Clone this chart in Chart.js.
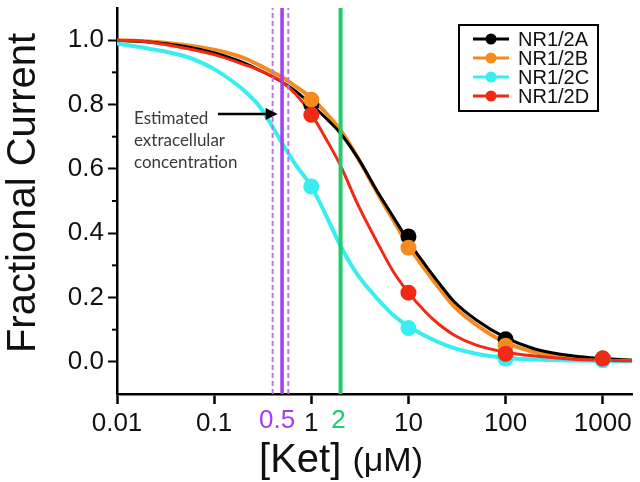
<!DOCTYPE html>
<html>
<head>
<meta charset="utf-8">
<script src="https://cdn.jsdelivr.net/npm/chart.js@4.4.1/dist/chart.umd.min.js"></script>
<style>
  html, body { margin: 0; padding: 0; background: #fff; }
  #wrap { width: 640px; height: 482px; }
</style>
</head>
<body>
<div id="wrap"><canvas id="ketChart" width="640" height="482"></canvas></div>
<script>
// fitted curves at these concentrations (uM)
const fitX = [0.01, 0.02, 0.05, 0.1, 0.2, 0.3, 0.5, 0.7, 1, 1.5, 2, 3, 5, 7, 10, 15, 20, 30, 50, 100, 200, 500, 1000, 2000];
const fitA = [1.0, 0.995, 0.98, 0.96, 0.93, 0.905, 0.87, 0.84, 0.80, 0.75, 0.71, 0.635, 0.52, 0.45, 0.375, 0.30, 0.25, 0.185, 0.13, 0.075, 0.04, 0.018, 0.01, 0.005];
const fitB = [1.0, 0.997, 0.985, 0.97, 0.945, 0.92, 0.885, 0.855, 0.82, 0.765, 0.72, 0.635, 0.515, 0.44, 0.36, 0.285, 0.235, 0.17, 0.115, 0.06, 0.03, 0.013, 0.007, 0.004];
const fitC = [0.99, 0.975, 0.95, 0.91, 0.845, 0.79, 0.68, 0.61, 0.545, 0.44, 0.36, 0.27, 0.19, 0.145, 0.11, 0.08, 0.062, 0.042, 0.025, 0.012, 0.007, 0.004, 0.003, 0.002];
const fitD = [1.0, 0.995, 0.975, 0.955, 0.925, 0.905, 0.87, 0.83, 0.77, 0.68, 0.61, 0.49, 0.36, 0.28, 0.215, 0.155, 0.12, 0.082, 0.052, 0.03, 0.018, 0.008, 0.005, 0.003];

// measured points
const doseX = [1, 10, 100, 1000];
const measA = [0.80, 0.39, 0.07, 0.01];
const measB = [0.815, 0.355, 0.05, 0.01];
const measC = [0.545, 0.105, 0.01, 0.005];
const measD = [0.768, 0.215, 0.025, 0.01];

const seriesNames = ['NR1/2A', 'NR1/2B', 'NR1/2C', 'NR1/2D'];
const seriesColors = ['#000000', '#f58a1f', '#38eef0', '#f02a14'];

// reference concentrations: 0.5 (range 0.4-0.58) and 2 uM
const vLineX = [0.4, 0.5, 0.58, 2];

const xTicks = [0.01, 0.1, 1, 10, 100, 1000];
const xTickLabels = ['0.01', '0.1', '1', '10', '100', '1000'];
const extraTickX = [0.5, 2];
const extraTickLabels = ['0.5', '2'];
const yTicks = [0, 0.2, 0.4, 0.6, 0.8, 1.0];
const yTickLabels = ['0.0', '0.2', '0.4', '0.6', '0.8', '1.0'];
const yMinorTicks = [0.1, 0.3, 0.5, 0.7, 0.9];

const FONT = '"Liberation Sans", Arial, sans-serif';
const PURPLE = '#a43cf2';
const PURPLE_LIGHT = '#b975f5';
const GREEN = '#22cc6a';

function pts(xs, ys) {
    return xs.map((x, i) => ({ x: x, y: ys[i] }));
}

function vline(x, color, width, dash, order) {
    return {
        data: [{ x: x, y: -0.1 }, { x: x, y: 1.1 }],
        borderColor: color,
        borderWidth: width,
        borderDash: dash,
        pointRadius: 0,
        order: order
    };
}

function curve(ys, color, width, order) {
    return {
        data: pts(fitX, ys),
        borderColor: color,
        borderWidth: width,
        pointRadius: 0,
        cubicInterpolationMode: 'monotone',
        order: order
    };
}

function dots(ys, color, order) {
    return {
        data: pts(doseX, ys),
        showLine: false,
        pointRadius: 8,
        pointBackgroundColor: color,
        pointBorderColor: color,
        pointBorderWidth: 0,
        order: order
    };
}

const overlay = {
    id: 'overlay',
    afterDraw(chart) {
        const { ctx, chartArea: a, scales: { x, y } } = chart;
        ctx.save();

        // minor ticks on y
        ctx.strokeStyle = '#000';
        ctx.lineWidth = 2;
        yMinorTicks.forEach(v => {
            const py = y.getPixelForValue(v);
            ctx.beginPath();
            ctx.moveTo(a.left - 5, py);
            ctx.lineTo(a.left, py);
            ctx.stroke();
        });

        // coloured concentration labels under the axis
        ctx.font = '26px ' + FONT;
        ctx.textAlign = 'center';
        ctx.textBaseline = 'top';
        const shift = [-5, -2];
        const cols = [PURPLE, GREEN];
        extraTickX.forEach((v, i) => {
            ctx.fillStyle = cols[i];
            ctx.fillText(extraTickLabels[i], x.getPixelForValue(v) + shift[i], a.bottom + 14);
        });

        // annotation + arrow
        ctx.font = '17px Lato, ' + FONT;
        ctx.fillStyle = '#3a3a3a';
        ctx.textAlign = 'left';
        ctx.textBaseline = 'middle';
        ctx.fillText('Estimated', 134, 119);
        ctx.fillText('extracellular', 134, 141);
        ctx.fillText('concentration', 134, 163);

        const tipX = x.getPixelForValue(0.4) + 5;
        ctx.strokeStyle = '#000';
        ctx.lineWidth = 2.5;
        ctx.beginPath();
        ctx.moveTo(218, 114);
        ctx.lineTo(tipX - 8, 114);
        ctx.stroke();
        ctx.fillStyle = '#000';
        ctx.beginPath();
        ctx.moveTo(tipX, 114);
        ctx.lineTo(tipX - 12, 108);
        ctx.lineTo(tipX - 12, 120);
        ctx.closePath();
        ctx.fill();

        // legend box
        ctx.lineWidth = 2;
        ctx.strokeStyle = '#000';
        ctx.strokeRect(459, 25, 139, 86);
        ctx.font = '20px ' + FONT;
        ctx.textBaseline = 'middle';
        seriesNames.forEach((name, i) => {
            const ly = 39 + i * 19;
            ctx.strokeStyle = seriesColors[i];
            ctx.fillStyle = seriesColors[i];
            ctx.lineWidth = 3;
            ctx.beginPath();
            ctx.moveTo(473, ly);
            ctx.lineTo(509, ly);
            ctx.stroke();
            ctx.beginPath();
            ctx.arc(491, ly, 5.5, 0, Math.PI * 2);
            ctx.fill();
            ctx.fillStyle = '#111';
            ctx.fillText(name, 518, ly + 1);
        });

        // axis titles
        ctx.fillStyle = '#111';
        ctx.textBaseline = 'alphabetic';
        ctx.save();
        ctx.translate(35, 193);
        ctx.rotate(-Math.PI / 2);
        ctx.textAlign = 'center';
        ctx.font = '40px ' + FONT;
        ctx.fillText('Fractional Current', 0, 0);
        ctx.restore();

        const big = '40px ' + FONT;
        const small = '34px ' + FONT;
        ctx.font = big;
        const w1 = ctx.measureText('[Ket] ').width;
        ctx.font = small;
        const w2 = ctx.measureText('(μM)').width;
        const startX = 341 - (w1 + w2) / 2;
        ctx.textAlign = 'left';
        ctx.font = big;
        ctx.fillText('[Ket] ', startX, 472);
        ctx.font = small;
        ctx.fillText('(μM)', startX + w1, 471);

        ctx.restore();
    }
};

new Chart(document.getElementById('ketChart'), {
    type: 'line',
    data: {
        datasets: [
            vline(vLineX[0], PURPLE_LIGHT, 2, [5, 3], 5),
            vline(vLineX[1], PURPLE, 3.5, [], 5),
            vline(vLineX[2], PURPLE_LIGHT, 2, [5, 3], 5),
            vline(vLineX[3], GREEN, 4, [], 5),
            curve(fitA, seriesColors[0], 3, 8),
            curve(fitB, seriesColors[1], 4, 9),
            curve(fitC, seriesColors[2], 4, 7),
            curve(fitD, seriesColors[3], 3, 6),
            dots(measA, seriesColors[0], 4),
            dots(measB, seriesColors[1], 3),
            dots(measC, seriesColors[2], 2),
            dots(measD, seriesColors[3], 1)
        ]
    },
    options: {
        animation: false,
        responsive: false,
        devicePixelRatio: 1,
        layout: { padding: { top: 3, right: 4, left: 0, bottom: 0 } },
        plugins: {
            legend: { display: false },
            tooltip: { enabled: false }
        },
        scales: {
            x: {
                type: 'logarithmic',
                min: 0.01,
                max: 2000,
                afterBuildTicks: (scale) => {
                    scale.ticks = xTicks.map(v => ({ value: v }));
                },
                afterFit: (scale) => {
                    scale.height = 88;
                    scale.paddingLeft = 0;
                    scale.paddingRight = 0;
                },
                border: { display: true, color: '#000', width: 2.5 },
                grid: { drawOnChartArea: false, tickLength: 10, tickWidth: 2.5, tickColor: '#000' },
                ticks: {
                    autoSkip: false,
                    maxRotation: 0,
                    padding: 4,
                    color: '#111',
                    font: { family: FONT, size: 26 },
                    callback: (value) => {
                        const i = xTicks.indexOf(value);
                        return i >= 0 ? xTickLabels[i] : '';
                    }
                }
            },
            y: {
                min: -0.1,
                max: 1.1,
                afterBuildTicks: (scale) => {
                    scale.ticks = yTicks.map(v => ({ value: v }));
                },
                afterFit: (scale) => {
                    scale.width = 117;
                    scale.paddingTop = 0;
                    scale.paddingBottom = 0;
                },
                border: { display: true, color: '#000', width: 2.5 },
                grid: { drawOnChartArea: false, tickLength: 9, tickWidth: 2, tickColor: '#000' },
                ticks: {
                    padding: 4,
                    color: '#111',
                    font: { family: FONT, size: 26 },
                    callback: (value) => {
                        const i = yTicks.findIndex(t => Math.abs(t - value) < 1e-9);
                        return i >= 0 ? yTickLabels[i] : '';
                    }
                }
            }
        }
    },
    plugins: [overlay]
});
</script>
</body>
</html>
